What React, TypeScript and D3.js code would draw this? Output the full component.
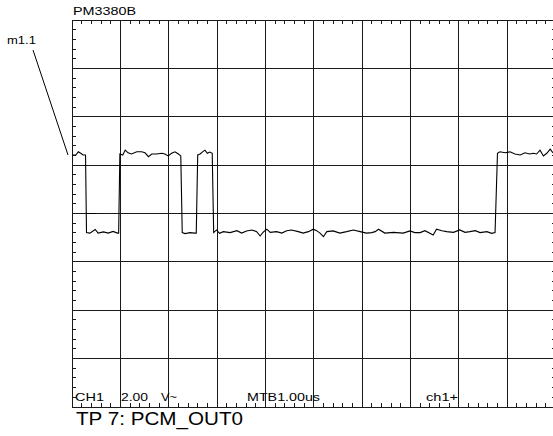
import * as d3 from 'd3';

// scope settings: 10 div x 1.00us, 8 div x 2.00V
const timeDivs = 10;
const voltDivs = 8;
const timePerDiv = 1.0;
const voltPerDiv = 2.0;

// trace: time (us)
const traceTime = [
  0, 0.08, 0.13, 0.18, 0.23, 0.28, 0.30, 0.37, 0.48, 0.54, 0.65, 0.75, 0.85, 0.94, 0.965,
  0.99, 1.05, 1.10, 1.16, 1.23, 1.34, 1.44, 1.51, 1.58, 1.65, 1.75, 1.86, 1.92, 1.99, 2.06,
  2.13, 2.20, 2.25, 2.28, 2.34, 2.44, 2.54, 2.57, 2.60, 2.65, 2.70, 2.75, 2.80, 2.85, 2.90,
  2.93, 2.99, 3.05, 3.13, 3.27, 3.41, 3.51, 3.61, 3.72, 3.82, 3.89, 3.96, 4.03, 4.10, 4.23,
  4.34, 4.44, 4.54, 4.68, 4.78, 4.89, 4.99, 5.06, 5.13, 5.20, 5.27, 5.40, 5.54, 5.68, 5.82,
  5.96, 6.09, 6.20, 6.27, 6.34, 6.47, 6.65, 6.85, 6.99, 7.09, 7.20, 7.30, 7.47, 7.54, 7.65,
  7.75, 7.89, 8.02, 8.13, 8.23, 8.34, 8.44, 8.58, 8.68, 8.75, 8.80, 8.85, 8.96, 9.06, 9.16,
  9.27, 9.37, 9.47, 9.54, 9.61, 9.68, 9.75, 9.82, 9.89, 9.95,
];
// trace voltage (V)
const traceVolt = [
  2.42, 2.42, 2.55, 2.49, 2.42, 2.42, -0.79, -0.81, -0.66, -0.81, -0.76, -0.81, -0.74, -0.81, -0.81,
  2.46, 2.42, 2.62, 2.51, 2.46, 2.55, 2.55, 2.51, 2.35, 2.46, 2.46, 2.49, 2.46, 2.38, 2.49,
  2.55, 2.46, 2.38, -0.79, -0.83, -0.79, -0.81, -0.81, 2.42, 2.46, 2.55, 2.62, 2.49, 2.54, 2.49,
  -0.79, -0.68, -0.82, -0.75, -0.79, -0.71, -0.81, -0.72, -0.68, -0.75, -0.93, -0.76, -0.65, -0.78, -0.75,
  -0.81, -0.71, -0.68, -0.75, -0.81, -0.75, -0.65, -0.71, -0.81, -0.96, -0.75, -0.72, -0.81, -0.75, -0.68,
  -0.75, -0.81, -0.79, -0.75, -0.65, -0.81, -0.78, -0.81, -0.72, -0.79, -0.79, -0.71, -0.89, -0.65, -0.71,
  -0.75, -0.78, -0.68, -0.78, -0.75, -0.71, -0.79, -0.75, -0.82, -0.79, 2.49, 2.55, 2.51, 2.55, 2.46,
  2.42, 2.51, 2.46, 2.49, 2.46, 2.62, 2.38, 2.49, 2.66, 2.50,
];

// trigger level marker
const trigLevel = 0.0;
const trigSpan = [0.3, 0.5];

const statusLabels = ['CH1', '2.00', 'V~', 'MTB1.00us', 'ch1+'];

const App = () => {
  const W = 553;
  const H = 436;
  const left = 72;
  const top = 20;
  const right = 555.5;
  const bottom = 407;

  const x = d3.scaleLinear().domain([0, timeDivs * timePerDiv]).range([left, right]);
  const y = d3.scaleLinear()
    .domain([-(voltDivs / 2) * voltPerDiv, (voltDivs / 2) * voltPerDiv])
    .range([bottom, top]);

  const pts: [number, number][] = traceTime.map((t, i) => [t, traceVolt[i]]);
  const line = d3.line<[number, number]>().x(d => x(d[0])).y(d => y(d[1]));

  const vLines = d3.range(0, timeDivs + 1).map(i => x(i * timePerDiv));
  const hLines = d3.range(0, voltDivs + 1).map(i => y(-(voltDivs / 2) * voltPerDiv + i * voltPerDiv));

  // minor ticks, 5 per div, skip the ones on grid lines
  const xMinor = d3.range(0, timeDivs * 5 + 1).filter(i => i % 5 != 0).map(i => x(i * timePerDiv / 5));
  const yMinor = d3.range(0, voltDivs * 5 + 1).filter(i => i % 5 != 0)
    .map(i => y(-(voltDivs / 2) * voltPerDiv + i * voltPerDiv / 5));
  const tk = 4;

  // label x positions / widths as seen on screen
  const labelX = [75, 121, 161, 247, 426];
  const labelW = [29, 27, 16, 73, 32];

  return (
    <svg width={W} height={H} style={{ position: 'absolute', left: 0, top: 0, background: '#fff' }}
      fontFamily="'Liberation Sans', Arial, sans-serif">
      <rect x={0} y={0} width={W} height={H} fill="#fff" />
      <g stroke="#1a1a1a" strokeWidth={1} shapeRendering="crispEdges">
        {vLines.map((v, i) => <line key={'v' + i} x1={v} x2={v} y1={top} y2={bottom} />)}
        {hLines.map((v, i) => <line key={'h' + i} x1={left} x2={right} y1={v} y2={v} />)}
        {xMinor.map((v, i) => <line key={'tt' + i} x1={v} x2={v} y1={top} y2={top + tk} />)}
        {xMinor.map((v, i) => <line key={'tb' + i} x1={v} x2={v} y1={bottom} y2={bottom - tk} />)}
        {yMinor.map((v, i) => <line key={'tl' + i} x1={left} x2={left + tk} y1={v} y2={v} />)}
        {yMinor.map((v, i) => <line key={'tr' + i} x1={right} x2={right - tk} y1={v} y2={v} />)}
      </g>
      <line x1={x(trigSpan[0])} x2={x(trigSpan[1])} y1={y(trigLevel)} y2={y(trigLevel)}
        stroke="#000" strokeWidth={1} />
      <path d={line(pts) || ''} fill="none" stroke="#000" strokeWidth={1.1} />
      <line x1={33} y1={50} x2={x(0) - 4} y2={y(traceVolt[0])} stroke="#000" strokeWidth={1} />
      <text x={7} y={44} fontSize={10.5} textLength={29} lengthAdjust="spacingAndGlyphs">m1.1</text>
      <text x={73} y={14.5} fontSize={10.5} textLength={63} lengthAdjust="spacingAndGlyphs">PM3380B</text>
      {statusLabels.map((s, i) => (
        <text key={s} x={labelX[i]} y={401} fontSize={11} textLength={labelW[i]}
          lengthAdjust="spacingAndGlyphs">{s}</text>
      ))}
      <text x={76} y={424.5} fontSize={17.5} textLength={167} lengthAdjust="spacingAndGlyphs">TP 7: PCM_OUT0</text>
    </svg>
  );
};

export default App;
